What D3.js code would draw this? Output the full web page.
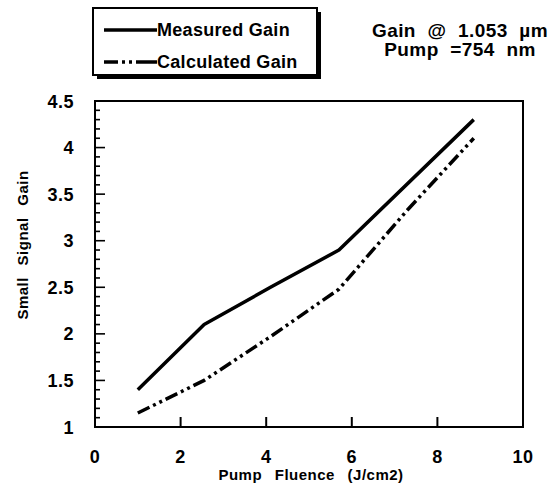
<!DOCTYPE html>
<html>
<head>
<meta charset="utf-8">
<script src="https://cdnjs.cloudflare.com/ajax/libs/d3/7.8.5/d3.min.js"></script>
<style>
  body { margin: 0; background: #fff; }
  text { font-family: "Liberation Sans", Arial, sans-serif; fill: #000; }
</style>
</head>
<body>
<script>
var w = 558,
    h = 488;

// data
var measuredX = [1.0, 2.55, 4.1, 5.7, 8.85];
var measuredY = [1.4, 2.1, 2.5, 2.9, 4.3];
var calcX = [1.0, 2.55, 4.1, 5.7, 7.3, 8.85];
var calcY = [1.15, 1.5, 1.97, 2.48, 3.33, 4.1];
var xTicks = [0, 2, 4, 6, 8, 10];
var yTicks = [1, 1.5, 2, 2.5, 3, 3.5, 4, 4.5];
var seriesNames = ["Measured Gain", "Calculated Gain"];
var titleLines = ["Gain @ 1.053 \u00b5m", "Pump =754 nm"];

var pLeft = 95, pRight = 523, pTop = 101, pBottom = 427;

var svg = d3.select("body").append("svg").attr("width", w).attr("height", h);

var xScale = d3.scaleLinear().domain([0, 10]).range([pLeft, pRight]);
var yScale = d3.scaleLinear().domain([1, 4.5]).range([pBottom, pTop]);

// frame
svg.append("rect")
    .attr("x", pLeft).attr("y", pTop)
    .attr("width", pRight - pLeft).attr("height", pBottom - pTop)
    .attr("fill", "none").attr("stroke", "#000").attr("stroke-width", 2);

// y ticks: minor every 0.1, major every 0.5, drawn inside
var minor = d3.range(11, 45).map(function (d) { return d / 10; });
svg.selectAll("line.ymin").data(minor).enter().append("line")
    .attr("class", "ymin")
    .attr("x1", pLeft).attr("x2", function (d) {
        return pLeft + (Math.abs(d * 2 - Math.round(d * 2)) < 1e-6 ? 10 : 5);
    })
    .attr("y1", function (d) { return yScale(d); })
    .attr("y2", function (d) { return yScale(d); })
    .attr("stroke", "#000").attr("stroke-width", 1.6);

// x ticks inside from bottom
svg.selectAll("line.xt").data(xTicks.slice(1, -1)).enter().append("line")
    .attr("class", "xt")
    .attr("x1", function (d) { return xScale(d); })
    .attr("x2", function (d) { return xScale(d); })
    .attr("y1", pBottom).attr("y2", pBottom - 10)
    .attr("stroke", "#000").attr("stroke-width", 2);

// tick labels
svg.selectAll("text.yl").data(yTicks).enter().append("text")
    .attr("class", "yl")
    .attr("x", 74).attr("y", function (d) { return yScale(d) + 6.5; })
    .attr("text-anchor", "end")
    .attr("font-size", 18).attr("font-weight", "bold")
    .style("letter-spacing", "0.5px")
    .text(function (d) { return d; });

svg.selectAll("text.xl").data(xTicks).enter().append("text")
    .attr("class", "xl")
    .attr("x", function (d) { return xScale(d); }).attr("y", 463)
    .attr("text-anchor", "middle")
    .attr("font-size", 18).attr("font-weight", "bold")
    .style("letter-spacing", "0.5px")
    .text(function (d) { return d; });

// axis titles
svg.append("text")
    .attr("x", 311).attr("y", 480)
    .attr("text-anchor", "middle")
    .attr("font-size", 15).attr("font-weight", "bold")
    .style("word-spacing", "8px").style("letter-spacing", "0.5px")
    .text("Pump Fluence (J/cm2)");

svg.append("text")
    .attr("transform", "translate(28,245) rotate(-90)")
    .attr("text-anchor", "middle")
    .attr("font-size", 15).attr("font-weight", "bold")
    .style("word-spacing", "7px").style("letter-spacing", "0.5px")
    .text("Small Signal Gain");

// lines
var lineFn = d3.line()
    .x(function (d) { return xScale(d[0]); })
    .y(function (d) { return yScale(d[1]); });

var measured = d3.zip(measuredX, measuredY);
var calc = d3.zip(calcX, calcY);

svg.append("path")
    .attr("d", lineFn(measured))
    .attr("fill", "none").attr("stroke", "#000")
    .attr("stroke-width", 3.5).attr("stroke-linejoin", "round");

svg.append("path")
    .attr("d", lineFn(calc))
    .attr("fill", "none").attr("stroke", "#000")
    .attr("stroke-width", 3.5)
    .attr("stroke-dasharray", "13,4,3,4,3,4");

// legend box with shadow
var lg = svg.append("g");
lg.append("rect").attr("x", 97).attr("y", 12).attr("width", 224).attr("height", 67).attr("fill", "#000");
lg.append("rect").attr("x", 93).attr("y", 8).attr("width", 224).attr("height", 67)
    .attr("fill", "#fff").attr("stroke", "#000").attr("stroke-width", 2);

lg.selectAll("line.lg").data(seriesNames).enter().append("line")
    .attr("class", "lg")
    .attr("x1", 104).attr("x2", 157)
    .attr("y1", function (d, i) { return 30 + i * 32; })
    .attr("y2", function (d, i) { return 30 + i * 32; })
    .attr("stroke", "#000").attr("stroke-width", 3.5)
    .attr("stroke-dasharray", function (d, i) { return i ? "14,4,3,4,3,4,30" : null; });

lg.selectAll("text.lg").data(seriesNames).enter().append("text")
    .attr("class", "lg")
    .attr("x", 157)
    .attr("y", function (d, i) { return 36 + i * 32; })
    .attr("font-size", 18).attr("font-weight", "bold")
    .style("letter-spacing", "0.3px")
    .text(function (d) { return d; });

// title block
svg.selectAll("text.tt").data(titleLines).enter().append("text")
    .attr("class", "tt")
    .attr("x", 460)
    .attr("y", function (d, i) { return 37 + i * 19; })
    .attr("text-anchor", "middle")
    .attr("font-size", 19).attr("font-weight", "bold")
    .style("word-spacing", "6px").style("letter-spacing", "0.4px")
    .text(function (d) { return d; });
</script>
</body>
</html>
